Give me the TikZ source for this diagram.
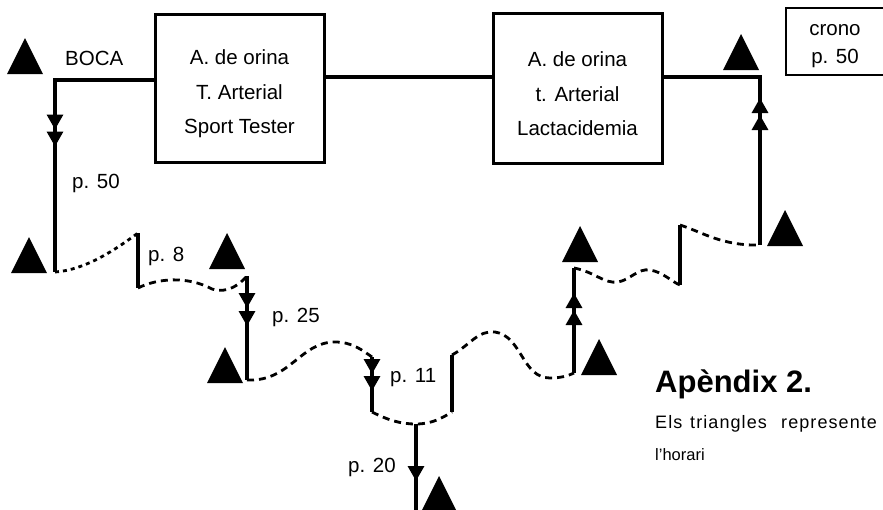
\documentclass[tikz,border=0pt]{standalone}
\usepackage{fontspec}
\setmainfont{Liberation Sans}
\usetikzlibrary{arrows.meta,decorations.markings}

\tikzset{
  wire/.style={line width=3.2pt, line join=miter},
  trail/.style={line width=2.8pt, dash pattern=on 7pt off 5pt},
  dots/.style={line width=2.8pt, dash pattern=on 4pt off 4pt},
  stage/.style={draw, line width=3pt, minimum width=169pt, minimum height=148pt, inner sep=0pt},
  stagetext/.style={align=center, font=\fontsize{20.5}{34.5}\selectfont, inner sep=0pt},
  lbl/.style={font=\fontsize{20.5}{24}\selectfont, inner sep=0pt, anchor=base west},
  captext/.style={inner sep=0pt, anchor=base west, font=\fontsize{16.5}{18}\selectfont},
  spaced/.style={captext, font=\fontsize{18}{20}\selectfont\addfontfeature{LetterSpace=6}},
  onehead/.style={postaction={decorate}, decoration={markings,
      mark=at position #1 with {\arrow{Triangle[width=16pt,length=15pt]}}}},
  twoheads/.style 2 args={postaction={decorate}, decoration={markings,
      mark=at position #1 with {\arrow{Triangle[width=16pt,length=15pt]}},
      mark=at position #2 with {\arrow{Triangle[width=16pt,length=15pt]}}}},
  pics/marker/.style={code={\fill (-18,0) -- (18,0) -- (0,-36) -- cycle;}}
}

\begin{document}
\begin{tikzpicture}[x=1pt, y=-1pt]
\useasboundingbox (0,0) rectangle (883,509);
\clip (0,0) rectangle (883,509);

% stations
\node[stage] (box1) at (239.5,88.5) {};
\node[stagetext] (box1t) at (239.5,94) {A. de orina\\T. Arterial\\Sport Tester};
\node[stage, minimum height=150pt] (box2) at (577.5,88) {};
\node[stagetext] (box2t) at (577.5,94) {A. de orina\\t. Arterial\\Lactacidemia};
\node[draw, line width=2.6pt, minimum width=102pt, minimum height=67pt, inner sep=0pt] (crono) at (837,41.5) {};
\node[lbl, anchor=base] (cronot) at (835,35) {crono};
\node[lbl, anchor=base] (cronop) at (835,63) {p. 50};

% route points
\coordinate (lvlA) at (0,80);
\coordinate (lvlB) at (0,77);
\coordinate (a0) at (55,80);
\coordinate (a1) at (55,272);
\coordinate (b0) at (138,233);
\coordinate (b1) at (138,288);
\coordinate (c0) at (247,276);
\coordinate (c1) at (247,380);
\coordinate (d0) at (372,357);
\coordinate (d1) at (372,412);
\coordinate (e0) at (452,355);
\coordinate (e1) at (452,412);
\coordinate (f0) at (416,424);
\coordinate (f1) at (416,515);
\coordinate (g0) at (574,373);
\coordinate (g1) at (574,268);
\coordinate (h0) at (680,285);
\coordinate (h1) at (680,225);
\coordinate (k0) at (760,245);
\coordinate (k1) at (760,77);

% solid stretches
\draw[wire, twoheads={148pt}{165pt}] (box1.west |- lvlA) -- (a0) -- (a1);
\draw[wire] (box1.east |- lvlB) -- (box2.west |- lvlB);
\draw[wire, twoheads={130pt}{147pt}] (k0) -- (k1) -- (box2.east |- lvlB);
\draw[wire] (b0) -- (b1);
\draw[wire, twoheads={32pt}{50pt}] (c0) -- (c1);
\draw[wire, twoheads={17pt}{34pt}] (d0) -- (d1);
\draw[wire] (e0) -- (e1);
\draw[wire, onehead={57pt}] (f0) -- (f1);
\draw[wire, twoheads={63pt}{80pt}] (g0) -- (g1);
\draw[wire] (h0) -- (h1);

% broken stretches
\draw[dots] (a1) .. controls (85,270) and (115,250) .. (b0);
\draw[trail] (b1) .. controls (158,278) and (188,276) .. (212,289)
                  .. controls (228,294) and (240,284) .. (c0);
\draw[trail] (c1) .. controls (290,382) and (300,342) .. (335,342)
                  .. controls (352,342) and (362,350) .. (d0);
\draw[trail] (d1) .. controls (388,420) and (400,424) .. (f0)
                  .. controls (432,424) and (442,418) .. (e1);
\draw[trail] (e0) .. controls (470,345) and (478,330) .. (495,332)
                  .. controls (522,336) and (522,378) .. (550,378)
                  .. controls (560,378) and (568,376) .. (g0);
\draw[trail] (g1) .. controls (595,272) and (604,284) .. (618,282)
                  .. controls (630,280) and (638,268) .. (650,270)
                  .. controls (663,272) and (672,282) .. (h0);
\draw[trail] (h1) .. controls (702,232) and (722,246) .. (k0);

% checkpoints
\pic (t1) at (25,74) {marker};
\pic (t2) at (29,273) {marker};
\pic (t3) at (227,269) {marker};
\pic (t4) at (225,383) {marker};
\pic (t5) at (439,512) {marker};
\pic (t6) at (599,375) {marker};
\pic (t7) at (580,262) {marker};
\pic (t8) at (785,246) {marker};
\pic (t9) at (741,70) {marker};

% labels
\node[lbl] (boca) at (65,65) {BOCA};
\node[lbl] (p50) at (72,188) {p. 50};
\node[lbl] (p8) at (148,261) {p. 8};
\node[lbl] (p25) at (272,322) {p. 25};
\node[lbl] (p11) at (390,382) {p. 11};
\node[lbl] (p20) at (348,472) {p. 20};

% caption
\node[inner sep=0pt, anchor=base west, font=\bfseries\fontsize{31}{36}\selectfont] (cap) at (655,392) {Apèndix 2.};
\node[spaced] (capw1) at (655,428) {Els};
\node[spaced] (capw2) at (690,428) {triangles};
\node[spaced] (capw3) at (781,428) {represente};
\node[captext] (capl2) at (655,460) {l’horari};
\end{tikzpicture}
\end{document}
